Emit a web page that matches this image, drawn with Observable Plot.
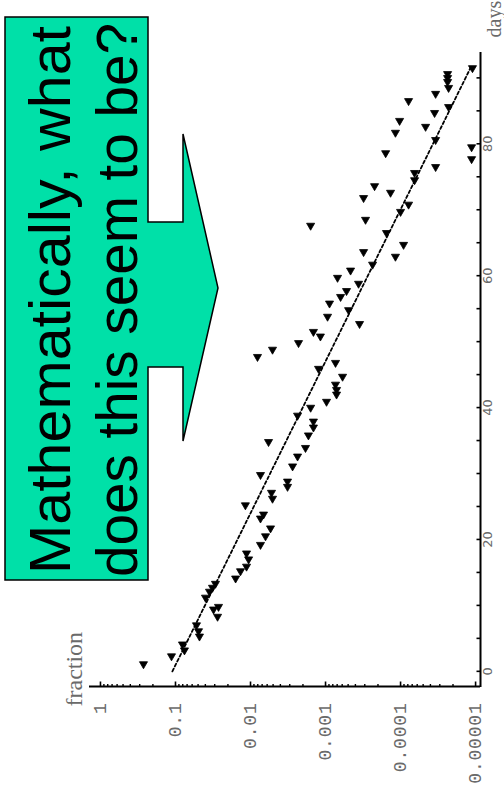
<!DOCTYPE html>
<html><head><meta charset="utf-8">
<script src="https://cdn.jsdelivr.net/npm/d3@7"></script>
<script src="https://cdn.jsdelivr.net/npm/@observablehq/plot@0.6"></script>
<style>
html,body{margin:0;padding:0;background:#fff;}
#stage{position:relative;width:504px;height:797px;overflow:hidden;background:#fff;}
#chart{position:absolute;left:0;top:0;width:797px;height:504px;transform-origin:0 0;transform:translate(0px,797px) rotate(-90deg);}
#callout{position:absolute;left:0;top:0;}
</style></head>
<body>
<div id="stage"><div id="chart"></div>
<svg id="callout" width="504" height="797">
  <path d="M5,17 H148 V222 H183 V134 L218,288 L183,441 V367 H148 V580 H5 Z" fill="#00e0a8" stroke="#000" stroke-width="1.5"/>
  <text transform="translate(70,300) rotate(-90)" text-anchor="middle" font-family="'Liberation Sans', Arial, sans-serif" font-size="58" textLength="548" lengthAdjust="spacingAndGlyphs" fill="#000">Mathematically, what</text>
  <text transform="translate(137,300) rotate(-90)" text-anchor="middle" font-family="'Liberation Sans', Arial, sans-serif" font-size="58" textLength="554" lengthAdjust="spacingAndGlyphs" fill="#000">does this seem to be?</text>
</svg>
</div>
<script>
// Scatter data: days vs fraction
const days = [1.1, 2.3, 4.1, 3.2, 7.0, 6.1, 5.3, 11.2, 12.1, 12.7, 13.3, 9.4, 9.8, 8.3,
  14.1, 15.2, 15.9, 17.0, 17.9, 25.2, 19.2, 20.5, 21.7, 23.2, 23.8, 27.1, 26.2, 29.8,
  28.8, 28.0, 34.8, 31.1, 32.6, 33.9, 35.8, 37.0, 37.9, 38.8, 40.0, 40.9, 42.0, 43.5,
  42.7, 44.7, 46.8, 45.9, 51.5, 50.8, 49.8, 48.8, 47.7, 53.8, 54.8, 55.8, 56.8, 57.7,
  58.8, 59.7, 60.8, 61.7, 62.9, 63.6, 64.7, 66.5, 68.5, 67.6, 69.7, 70.8, 71.8, 72.6,
  73.6, 52.7, 75.6, 74.5, 76.5, 77.7, 79.5, 78.6, 80.6, 81.7, 82.6, 83.5, 84.7, 85.6,
  86.5, 87.6, 88.5, 89.4, 90.0, 90.6, 91.5];
const fraction = [0.267, 0.113, 0.0807, 0.0759, 0.0525, 0.0493, 0.0479, 0.0398, 0.0352, 0.0321, 0.0293, 0.0311, 0.0267, 0.0275,
  0.0158, 0.0136, 0.0113, 0.0106, 0.0113, 0.0117, 0.00736, 0.00631, 0.00541, 0.00736, 0.00671, 0.00525, 0.00509, 0.00736,
  0.00321, 0.00321, 0.00575, 0.00275, 0.00236, 0.00185, 0.00169, 0.00145, 0.00145, 0.00236, 0.00158, 0.00097, 0.000713, 0.000736,
  0.000713, 0.000593, 0.000736, 0.00124, 0.00145, 0.00117, 0.00229, 0.00509, 0.00807, 0.00094, 0.000493, 0.000885, 0.00063, 0.000525,
  0.000363, 0.000692, 0.000464, 0.000236, 0.000117, 0.000311, 0.0000912, 0.000154, 0.000293, 0.00158, 0.0001, 0.0000782, 0.000311, 0.000136,
  0.000222, 0.000352, 0.000065, 0.000065, 0.0000341, 0.0000113, 0.0000113, 0.000158, 0.0000341, 0.000117, 0.0000464, 0.000103, 0.0000352, 0.0000229,
  0.0000782, 0.0000341, 0.0000229, 0.0000236, 0.0000236, 0.0000236, 0.000011];

// Fitted (dashed) line endpoints
const fitDays = [0, 91.5];
const fitFraction = [0.11, 0.0000117];

// Axes
const daysDomain = [-2.3, 94];
const fracDomain = [0.0000086, 1.4];
const dayTicks = [0, 5, 10, 15, 20, 25, 30, 35, 40, 45, 50, 55, 60, 65, 70, 75, 80, 85, 90];
const dayLabels = [0, 20, 40, 60, 80];
const fracMajor = [1, 0.1, 0.01, 0.001, 0.0001, 0.00001];
const fracLabels = ["1", "0.1", "0.01", "0.001", "0.0001", "0.00001"];
const minorMultipliers = [2, 3, 4, 5, 6, 7, 8, 9];
const fracMinor = fracMajor.slice(1).flatMap(m => minorMultipliers.map(k => k * m));

const points = days.map((d, i) => ({days: d, fraction: fraction[i]}));
const fit = fitDays.map((d, i) => ({days: d, fraction: fitFraction[i]}));

const gray = "#6a6a6a";
const chart = Plot.plot({
  width: 797, height: 504,
  marginLeft: 110, marginRight: 52, marginTop: 89, marginBottom: 24,
  style: {background: "transparent", maxWidth: "none", fontFamily: "'Liberation Sans', Arial, sans-serif"},
  x: {domain: daysDomain},
  y: {type: "log", domain: fracDomain},
  marks: [
    Plot.ruleX([daysDomain[0]], {stroke: "#000", strokeWidth: 2}),
    Plot.ruleY([fracDomain[0]], {stroke: "#000", strokeWidth: 2}),
    Plot.axisX({ticks: dayTicks, tickSize: -3.5, fill: "none", strokeWidth: 1.6, label: null}),
    Plot.axisX({ticks: dayLabels, tickSize: 0, tickPadding: 2, fontSize: 13, fill: gray, stroke: "none", label: null,
      fontFamily: "'DejaVu Sans', sans-serif", tickFormat: d => String(d)}),
    Plot.axisY({ticks: fracMajor, tickSize: -5.5, fill: "none", strokeWidth: 1.6, label: null}),
    Plot.axisY({ticks: fracMinor, tickSize: -3, fill: "none", strokeWidth: 1.4, label: null}),
    Plot.axisY({ticks: fracMajor, tickSize: 0, tickPadding: 16, fontSize: 18, fill: gray, stroke: "none", label: null,
      fontFamily: "'Liberation Mono', 'DejaVu Sans Mono', monospace", tickFormat: (d, i) => fracLabels[fracMajor.indexOf(d)]}),
    Plot.line(fit, {x: "days", y: "fraction", stroke: "#000", strokeWidth: 1.8, strokeDasharray: "3,2.5"}),
    Plot.dot(points, {x: "days", y: "fraction", symbol: "triangle", r: 3, fill: "#000", stroke: "#000", strokeWidth: 0.8, rotate: -90}),
    Plot.text(["fraction"], {frameAnchor: "top-left", dx: -20, dy: -8, textAnchor: "start", lineAnchor: "bottom",
      fontSize: 24, fontFamily: "'Liberation Serif', 'DejaVu Serif', serif", fill: gray}),
    Plot.text(["days"], {frameAnchor: "bottom-right", dx: 14, dy: 20, textAnchor: "start", lineAnchor: "bottom",
      fontSize: 20, fontFamily: "'Liberation Serif', 'DejaVu Serif', serif", fill: gray})
  ]
});
chart.querySelectorAll('[aria-label="y-axis tick label"] text').forEach(t => t.style.letterSpacing = "0.8px");
document.getElementById("chart").appendChild(chart);
</script>
</body></html>
